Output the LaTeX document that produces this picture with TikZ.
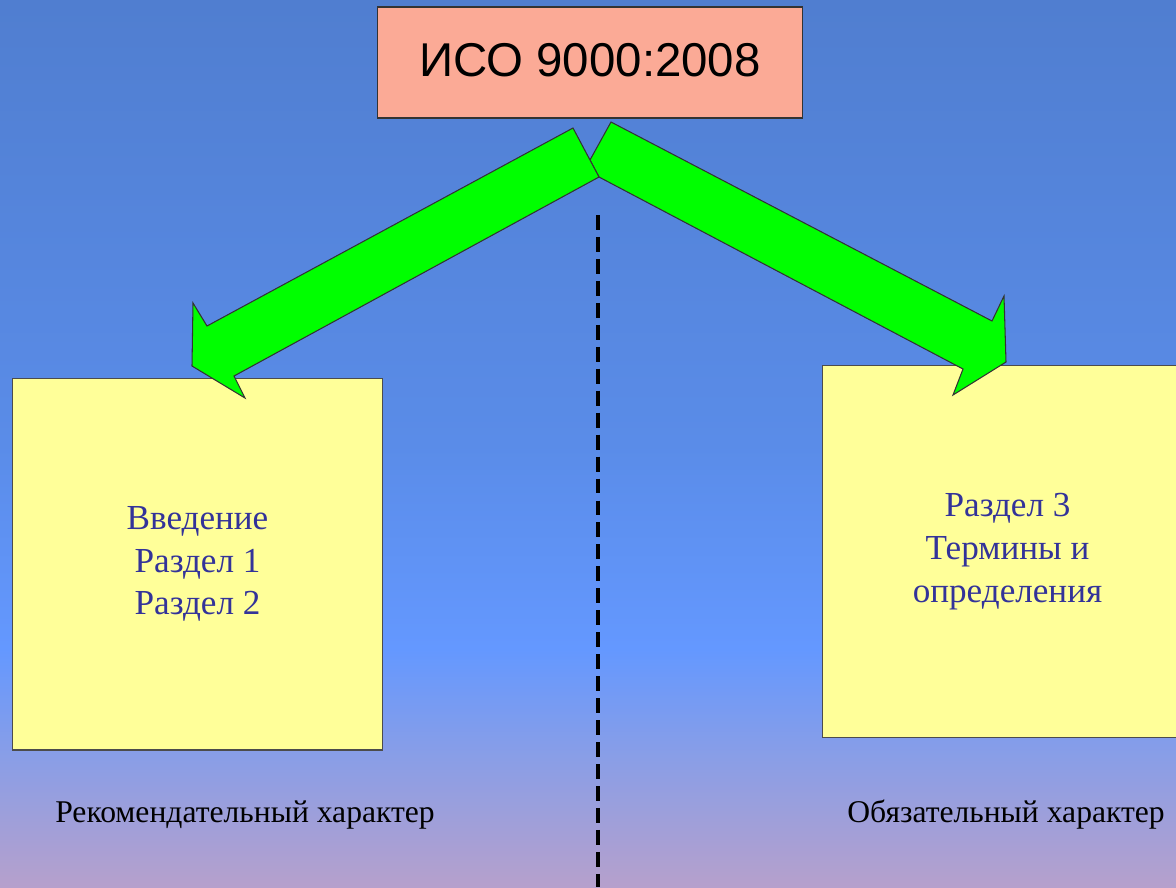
\documentclass[tikz,border=0pt]{standalone}
\usepackage{fontspec}
\setmainfont{Liberation Serif}
\newfontfamily\isofont{Liberation Sans}
\usetikzlibrary{positioning}

\definecolor{bgtop}{RGB}{80,126,208}
\definecolor{bgmidup}{RGB}{90,140,232}
\definecolor{bgmid}{RGB}{100,152,255}
\definecolor{bglow}{RGB}{138,158,230}
\definecolor{bgbot}{RGB}{182,160,204}
\definecolor{isofill}{RGB}{251,170,150}
\definecolor{notefill}{RGB}{255,255,153}
\definecolor{notetext}{RGB}{51,51,153}
\definecolor{arrowfill}{RGB}{0,255,0}

\pgfdeclareverticalshading{slidebg}{100bp}{color(0bp)=(bgbot); color(25bp)=(bgbot); color(32.2bp)=(bglow); color(38.4bp)=(bgmid); color(50bp)=(bgmidup); color(75bp)=(bgtop); color(100bp)=(bgtop)}

\begin{document}
\begin{tikzpicture}[x=0.02cm, y=-0.02cm,
    isobox/.style={draw=black!80, fill=isofill, line width=0.6pt, minimum width=8.52cm, minimum height=2.22cm, font=\isofont\fontsize{27}{31}\selectfont},
    notebox/.style={draw=black!70, fill=notefill, line width=0.6pt, minimum width=7.42cm, minimum height=7.44cm, align=center, text=notetext, font=\fontsize{20}{24.4}\selectfont},
    blockarrow/.style={draw=black!80, fill=arrowfill, line width=0.6pt, line join=miter},
    note/.style={font=\fontsize{18}{22}\selectfont}]
    % background
    \useasboundingbox (0,0) rectangle (1176,887);
    \clip (0,0) rectangle (1176,887);
    \shade[shading=slidebg] (0,0) rectangle (1176,887);

    \node[isobox]  (iso)   at (590,62.5)    {\raisebox{3pt}{ИСО 9000:2008}};
    \node[notebox] (recom) at (197.5,564)   {Введение\\Раздел 1\\Раздел 2};
    \node[notebox] (oblig) at (1007.5,551.5) {Раздел 3\\Термины и\\определения};

    \node[note] (lblrec)   at (245,815)  {Рекомендательный характер};
    \node[note] (lbloblig) at (1006,815) {Обязательный характер};

    % divider
    \coordinate (divtop) at (598,215);
    \coordinate (divbot) at (598,887);
    \draw[line width=2.1pt, dash pattern=on 8.5pt off 4pt] (divtop) -- (divbot);

    % block arrows
    \draw[blockarrow] (611,122) -- (992,321) -- (1004,296) -- (1006,362) -- (953,395) -- (963,369) -- (599,177) -- (590,160) -- cycle;
    \draw[blockarrow] (573,128) -- (207,326) -- (193,303) -- (192,366) -- (245,398) -- (234,376) -- (599,177) -- cycle;
\end{tikzpicture}
\end{document}
